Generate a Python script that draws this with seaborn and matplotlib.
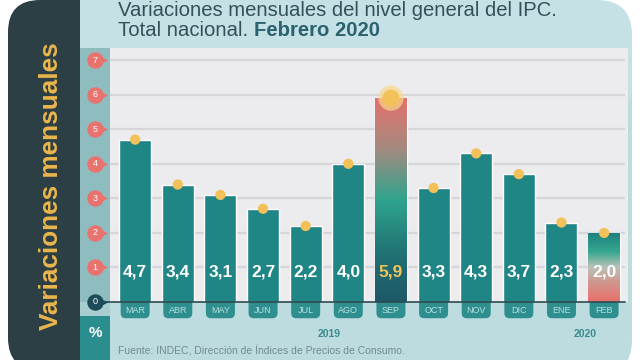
import numpy as np
import pandas as pd
import seaborn as sns
import matplotlib.pyplot as plt
from matplotlib.patches import FancyBboxPatch, Rectangle
from matplotlib.colors import LinearSegmentedColormap
from matplotlib.transforms import blended_transform_factory

#########################################
# Data

meses = ["MAR", "ABR", "MAY", "JUN", "JUL", "AGO", "SEP", "OCT", "NOV", "DIC", "ENE", "FEB"]
valores = [4.7, 3.4, 3.1, 2.7, 2.2, 4.0, 5.9, 3.3, 4.3, 3.7, 2.3, 2.0]
etiquetas = ["4,7", "3,4", "3,1", "2,7", "2,2", "4,0", "5,9", "3,3", "4,3", "3,7", "2,3", "2,0"]
ticks_y = [0, 1, 2, 3, 4, 5, 6, 7]
anios = ["2019", "2020"]

titulo_1 = "Variaciones mensuales del nivel general del IPC."
titulo_2 = "Total nacional."
titulo_2b = "Febrero 2020"
lateral = "Variaciones mensuales"
fuente = "Fuente: INDEC, Dirección de Índices de Precios de Consumo."

#########################################

TEAL = "#1f8585"
DARK = "#2c3f44"
YELLOW = "#f3c15a"
PINK = "#e8726e"
HEADER = "#c5e1e5"
BOTTOM = "#bcdcdf"
PLOTBG = "#ececee"
STRIP = "#8fbcbf"

sns.set_theme(style="white")
plt.rcParams['font.family'] = ['Liberation Sans', 'DejaVu Sans']

df = pd.DataFrame({"mes": meses, "valor": valores})

fig = plt.figure(figsize=(6.4, 3.6), dpi=100)
fig.patch.set_facecolor("white")

# background "card" drawn in pixel coordinates
bg = fig.add_axes([0, 0, 1, 1], zorder=0)
bg.set_xlim(0, 640)
bg.set_ylim(360, 0)
bg.axis("off")

# dark side panel first, light card on top of it (square on the left, round on the right)
bg.add_patch(FancyBboxPatch((8, 0), 180, 370, boxstyle="round,pad=0,rounding_size=32",
                            fc=DARK, ec="none"))
bg.add_patch(Rectangle((80, 40), 350, 330, fc=BOTTOM, ec="none"))
bg.add_patch(FancyBboxPatch((300, 40), 332, 335, boxstyle="round,pad=0,rounding_size=35",
                            fc=BOTTOM, ec="none"))
bg.add_patch(Rectangle((80, 0), 350, 48, fc=HEADER, ec="none"))
bg.add_patch(FancyBboxPatch((300, 0), 332, 120, boxstyle="round,pad=0,rounding_size=35",
                            fc=HEADER, ec="none"))
bg.add_patch(Rectangle((80, 48), 30, 254, fc=STRIP, ec="none"))
bg.add_patch(Rectangle((80, 302), 30, 14, fc="#a7cdd0", ec="none"))
bg.add_patch(Rectangle((80, 316), 30, 50, fc="#2b8e8e", ec="none"))
bg.add_patch(Rectangle((110, 48), 518, 254, fc=PLOTBG, ec="none"))

bg.text(95, 333, "%", color="white", fontsize=11, fontweight="bold", ha="center", va="center")
bg.text(51, 186, lateral, color="#eab54d", fontsize=18.8, fontweight="bold",
        rotation=90, ha="center", va="center")

t1 = bg.text(118, 10, titulo_1, color="#34505a", fontsize=14.6, ha="left", va="center")
t2 = bg.text(118, 31, titulo_2, color="#34505a", fontsize=14.6, ha="left", va="center")
bg.annotate(titulo_2b, xy=(1, 0.5), xycoords=t2, xytext=(4, 0), textcoords="offset points",
            color="#2a6270", fontsize=14.6, fontweight="bold", ha="left", va="center")
bg.text(118, 351, fuente, color="#6f8c92", fontsize=7.5, ha="left", va="center")

# main plot
ax = fig.add_axes([110 / 640, 58 / 360, 515 / 640, 254 / 360], zorder=1)
ax.set_facecolor(PLOTBG)

for v in ticks_y[1:]:
    ax.axhline(v, color="#d6d6da", lw=1.6, zorder=0.3)

# month tabs under the axis (drawn first, hidden under the bars above 0)
for i, m in enumerate(meses):
    ax.add_patch(FancyBboxPatch((i - 0.34, -0.47), 0.68, 0.8,
                                boxstyle="round,pad=0,rounding_size=0.12",
                                mutation_aspect=1.23, fc="#2f8f8f", ec="none",
                                zorder=0.5, clip_on=False))
    ax.text(i, -0.24, m, color="#b9e0e0", fontsize=6.5, ha="center", va="center",
            zorder=0.6, clip_on=False)

sns.barplot(data=df, x="mes", y="valor", color=TEAL, saturation=1, width=0.75,
            ax=ax, zorder=1)

# gradients for SEP and FEB
grad_sep = LinearSegmentedColormap.from_list(
    "sep", [(0, "#1d5868"), (0.25, "#217474"), (0.5, "#2fa48e"), (0.75, "#a38a7f"), (1, "#e4726b")])
grad_feb = LinearSegmentedColormap.from_list(
    "feb", [(0, "#e8706a"), (0.3, "#cf9a90"), (0.5, "#b8c2b8"), (0.72, "#35a78f"), (1, "#1f7f80")])
g = np.linspace(0, 1, 256).reshape(-1, 1)
for idx, cmap in [(meses.index("SEP"), grad_sep), (meses.index("FEB"), grad_feb)]:
    bar = ax.patches[-len(meses) + idx]
    x0, w, h = bar.get_x(), bar.get_width(), bar.get_height()
    im = ax.imshow(g, cmap=cmap, extent=[x0, x0 + w, 0, h], origin="lower",
                   aspect="auto", zorder=1.5)
    im.set_clip_path(bar)

# yellow dots on top of each bar
x = np.arange(len(meses))
sizes = [150 if m == "SEP" else 55 for m in meses]
ax.scatter(x, valores, s=[s * 2.2 if m == "SEP" else 0 for s, m in zip(sizes, meses)],
           color="#f8d88c", alpha=0.7, zorder=3, clip_on=False, linewidths=0)
ax.scatter(x, valores, s=sizes, color=YELLOW, zorder=3.2, clip_on=False, linewidths=0)

# value labels
for i, (lab, m) in enumerate(zip(etiquetas, meses)):
    ax.text(i, 0.87, lab, color="#f2c35a" if m == "SEP" else "white",
            fontsize=12.5, fontweight="bold", ha="center", va="center", zorder=4)

# y ticks as pins in the side strip
trans = blended_transform_factory(ax.transAxes, ax.transData)
for v in ticks_y:
    c = "#1e4b5a" if v == 0 else PINK
    ax.scatter([-0.029], [v], s=140, color=c, transform=trans, clip_on=False,
               zorder=5, linewidths=0)
    ax.scatter([-0.014], [v], s=45, marker=">", color=c, transform=trans, clip_on=False,
               zorder=5, linewidths=0)
    ax.text(-0.029, v, str(v), color="white", fontsize=6.5, ha="center", va="center",
            transform=trans, zorder=6, clip_on=False)

ax.plot([-0.03, 1], [0, 0], color="#2c4a50", lw=1.2, transform=trans, clip_on=False, zorder=4.5)

# year labels
ax.text(4.55, -0.92, anios[0], color="#3a8c8c", fontsize=7.5, fontweight="bold",
        ha="center", va="center", clip_on=False)
ax.text(10.55, -0.92, anios[1], color="#3a8c8c", fontsize=7.5, fontweight="bold",
        ha="center", va="center", clip_on=False)

ax.set_xlim(-0.59, 11.49)
ax.set_ylim(0, 7.35)
ax.set_xlabel("")
ax.set_ylabel("")
ax.set_xticks([])
ax.set_yticks([])
sns.despine(ax=ax, left=True, bottom=True)

plt.savefig("out.png", dpi=100)
